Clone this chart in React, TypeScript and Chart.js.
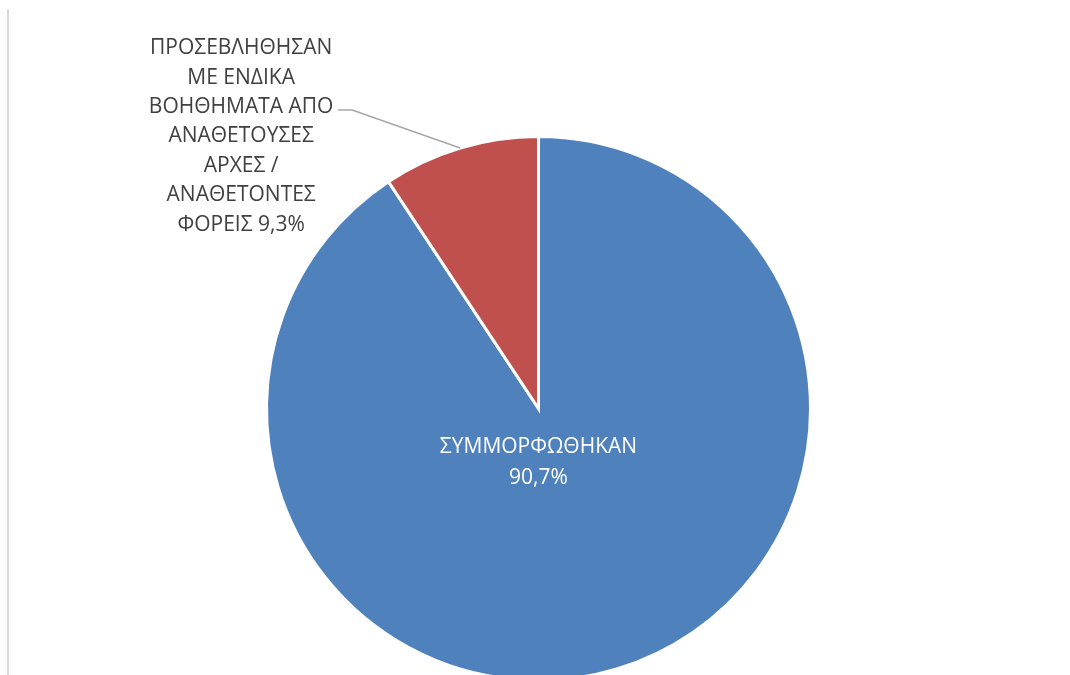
import React, { useEffect, useRef } from "react";
import { Chart, registerables } from "chart.js";

Chart.register(...registerables);

const categories = ["ΣΥΜΜΟΡΦΩΘΗΚΑΝ", "ΠΡΟΣΕΒΛΗΘΗΣΑΝ ΜΕ ΕΝΔΙΚΑ ΒΟΗΘΗΜΑΤΑ ΑΠΟ ΑΝΑΘΕΤΟΥΣΕΣ ΑΡΧΕΣ / ΑΝΑΘΕΤΟΝΤΕΣ ΦΟΡΕΙΣ"];
const values = [90.7, 9.3];
const valueLabels = ["90,7%", "9,3%"];
const sliceColors = ["#4F81BD", "#C0504D"];
const outsideLabelLines = [
  "ΠΡΟΣΕΒΛΗΘΗΣΑΝ",
  "ΜΕ ΕΝΔΙΚΑ",
  "ΒΟΗΘΗΜΑΤΑ ΑΠΟ",
  "ΑΝΑΘΕΤΟΥΣΕΣ",
  "ΑΡΧΕΣ /",
  "ΑΝΑΘΕΤΟΝΤΕΣ",
  "ΦΟΡΕΙΣ " + valueLabels[1],
];

const FONT = '"Open Sans", "Noto Sans", "DejaVu Sans", sans-serif';

const labelPlugin = {
  id: "pieLabels",
  afterDraw(chart: any) {
    const ctx = chart.ctx;
    const meta = chart.getDatasetMeta(0);
    const a0 = meta.data[0].getProps(["x", "y", "outerRadius"], true);
    const a1 = meta.data[1].getProps(["x", "y", "outerRadius", "startAngle", "endAngle"], true);
    ctx.save();
    ctx.font = `21px ${FONT}`;
    ctx.textAlign = "center";
    ctx.textBaseline = "middle";
    // inside label
    ctx.fillStyle = "#FFFFFF";
    const ix = a0.x;
    const iy = a0.y + a0.outerRadius * 0.14;
    ctx.fillText(categories[0], ix, iy);
    ctx.fillText(valueLabels[0], ix, iy + 31);

    // outside label with leader
    const mid = (a1.startAngle + a1.endAngle) / 2;
    const ex = a1.x + Math.cos(mid) * a1.outerRadius;
    const ey = a1.y + Math.sin(mid) * a1.outerRadius;
    const bx = ex - 108;
    const by = ey - 38;
    const sx = bx - 14;
    ctx.strokeStyle = "#A6A6A6";
    ctx.lineWidth = 1.5;
    ctx.beginPath();
    ctx.moveTo(sx, by);
    ctx.lineTo(bx, by);
    ctx.lineTo(ex, ey);
    ctx.stroke();

    ctx.fillStyle = "#404040";
    const cx = sx - 97;
    const lh = 29.4;
    const firstY = by - 2 * lh - 3;
    outsideLabelLines.forEach((line, i) => {
      ctx.fillText(line, cx, firstY + i * lh);
    });
    ctx.restore();
  },
};

export default function App() {
  const canvasRef = useRef<HTMLCanvasElement | null>(null);

  useEffect(() => {
    const canvas = canvasRef.current;
    if (!canvas) return;
    const chart = new Chart(canvas, {
      type: "pie",
      data: {
        labels: categories,
        datasets: [
          {
            data: values,
            backgroundColor: sliceColors,
            borderColor: "#FFFFFF",
            borderWidth: 3,
            borderJoinStyle: "miter",
          },
        ],
      },
      options: {
        responsive: false,
        animation: false,
        devicePixelRatio: 1,
        layout: { padding: { left: 7, right: 0, top: 135, bottom: 18 } },
        plugins: {
          legend: { display: false },
          tooltip: { enabled: false },
          title: { display: false },
        },
      },
      plugins: [labelPlugin],
    });
    return () => chart.destroy();
  }, []);

  return (
    <div
      style={{
        position: "fixed",
        left: 0,
        top: 0,
        width: 1070,
        height: 675,
        overflow: "hidden",
        background: "#FFFFFF",
      }}
    >
      <div
        style={{
          position: "absolute",
          left: 7,
          top: 9,
          width: 2,
          height: 666,
          background: "#D9D9D9",
        }}
      />
      <canvas
        ref={canvasRef}
        width={1070}
        height={700}
        style={{ position: "absolute", left: 0, top: 0, width: 1070, height: 700 }}
      />
    </div>
  );
}
